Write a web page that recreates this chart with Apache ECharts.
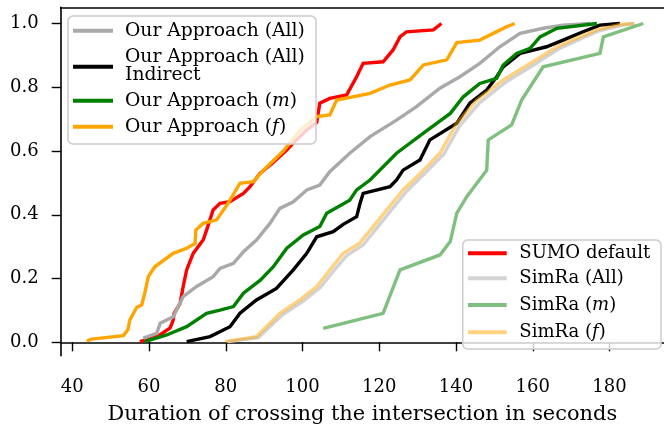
<!DOCTYPE html>
<html>
<head>
<meta charset="utf-8">
<script src="https://cdn.jsdelivr.net/npm/echarts@6/dist/echarts.min.js"></script>
<style>html,body{margin:0;padding:0;background:#fff}#c{width:664px;height:428px}</style>
</head>
<body>
<div id="c"></div>
<script>
// ---- data: [duration in s, cumulative fraction] ----
const sumoDefault = [[57.6,0.002],[60.5,0.012],[62.8,0.023],[65.5,0.045],[66.3,0.07],[66.5,0.09],[68.1,0.122],[68.9,0.175],[69.8,0.227],[71.5,0.279],[74.1,0.321],[75.0,0.352],[76.7,0.415],[78.5,0.436],[81.1,0.441],[84.6,0.467],[86.3,0.488],[88.9,0.53],[92.0,0.56],[95.9,0.603],[98.0,0.63],[101.1,0.666],[103.7,0.69],[104.5,0.75],[107.1,0.765],[111.5,0.776],[114.1,0.833],[115.8,0.875],[121.0,0.88],[123.6,0.917],[125.4,0.958],[127.1,0.974],[134.1,0.98],[136.2,1.0]];
const oursAll = [[58.5,0.013],[62.0,0.028],[62.9,0.06],[66.3,0.08],[68.9,0.143],[72.4,0.175],[76.7,0.206],[78.5,0.232],[82.0,0.248],[84.6,0.284],[88.0,0.321],[91.5,0.373],[94.1,0.42],[97.6,0.441],[101.1,0.478],[104.5,0.493],[107.1,0.535],[112.3,0.593],[117.6,0.645],[124.5,0.697],[129.7,0.739],[135.8,0.797],[141.0,0.833],[146.2,0.875],[151.4,0.927],[156.7,0.969],[162.7,0.985],[167.9,0.995],[175.0,1.0]];
const oursIndirect = [[69.8,0.002],[75.9,0.018],[81.1,0.049],[83.7,0.091],[88.0,0.133],[93.2,0.169],[97.6,0.227],[101.1,0.279],[103.7,0.331],[108.0,0.347],[110.6,0.37],[114.1,0.394],[115.0,0.436],[115.8,0.467],[122.8,0.488],[124.5,0.509],[126.2,0.54],[130.6,0.572],[133.2,0.635],[140.2,0.687],[143.6,0.75],[148.0,0.791],[150.6,0.833],[152.3,0.864],[156.7,0.906],[163.6,0.927],[167.9,0.948],[173.1,0.974],[177.5,0.995],[182.7,1.0]];
const oursM = [[58.9,0.002],[64.6,0.023],[69.8,0.049],[75.0,0.091],[78.5,0.101],[82.0,0.112],[84.6,0.154],[89.0,0.195],[92.4,0.237],[95.9,0.295],[100.2,0.337],[104.5,0.363],[106.3,0.405],[112.3,0.446],[114.1,0.478],[117.6,0.509],[124.5,0.593],[131.5,0.656],[138.5,0.718],[141.9,0.77],[146.2,0.812],[150.6,0.828],[152.3,0.87],[155.8,0.906],[159.3,0.922],[161.9,0.958],[166.3,0.985],[176.7,1.0]];
const oursF = [[43.75,0.004],[45.0,0.01],[53.3,0.021],[54.5,0.04],[55.0,0.07],[56.8,0.11],[58.1,0.117],[59.0,0.16],[59.8,0.206],[61.5,0.237],[66.3,0.279],[69.8,0.295],[72.0,0.31],[72.2,0.352],[74.1,0.373],[77.6,0.384],[80.6,0.436],[83.7,0.499],[87.2,0.504],[89.8,0.54],[95.0,0.6],[99.4,0.665],[103.7,0.708],[107.1,0.713],[108.9,0.76],[117.6,0.781],[122.8,0.807],[128.0,0.823],[131.5,0.87],[137.6,0.886],[140.2,0.94],[146.2,0.948],[149.7,0.969],[153.2,0.99],[155.3,1.0]];
const simraAll = [[80.5,0.002],[88.5,0.015],[92.0,0.055],[95.0,0.088],[100.0,0.128],[104.5,0.17],[108.0,0.222],[111.5,0.272],[115.8,0.305],[119.2,0.356],[122.8,0.41],[127.0,0.472],[129.8,0.505],[132.3,0.535],[136.8,0.59],[141.0,0.68],[146.2,0.752],[153.2,0.818],[160.2,0.87],[167.0,0.922],[173.0,0.955],[177.5,0.978],[183.5,0.995],[186.6,1.0]];
const simraM = [[105.4,0.044],[121.0,0.091],[125.4,0.227],[135.8,0.274],[138.5,0.316],[140.2,0.405],[142.8,0.457],[148.0,0.54],[148.4,0.635],[154.5,0.682],[157.1,0.76],[162.7,0.864],[177.5,0.906],[178.4,0.958],[188.8,1.0]];
const simraF = [[79.8,0.002],[88.0,0.018],[91.5,0.06],[94.1,0.091],[99.3,0.133],[103.7,0.175],[107.1,0.227],[110.6,0.279],[114.9,0.311],[118.4,0.363],[121.9,0.415],[126.2,0.478],[128.9,0.509],[131.5,0.54],[135.8,0.593],[140.2,0.687],[145.4,0.76],[152.3,0.823],[159.3,0.875],[166.3,0.927],[172.3,0.958],[176.7,0.98],[182.7,0.997],[186.2,1.0]];
const xTicks = [40,60,80,100,120,140,160,180];
const yTicks = [0,0.2,0.4,0.6,0.8,1.0];
const xLabel = 'Duration of crossing the intersection in seconds';

const FONT = 'DejaVu Serif';
const FS = 18;
// fit text sizes to the reference text widths
const mctx = document.createElement('canvas').getContext('2d');
function fitSize(text, target) {
  mctx.font = '100px "' + FONT + '"';
  return 100 * target / mctx.measureText(text).width;
}
const LS1 = Math.min(21, fitSize('Our Approach (All)', 180));
const LS2 = Math.min(21, fitSize('SUMO default', 131));
const XLS = Math.min(22, fitSize(xLabel, 510));

const chart = echarts.init(document.getElementById('c'), null, {renderer:'canvas'});

function line(name, data, color, z) {
  return {name, type:'line', data, showSymbol:false, symbol:'none', z,
    lineStyle:{color, width:3.4, join:'miter'}, itemStyle:{color}, animation:false, clip:true};
}
const series = [
  line('SUMO default', sumoDefault, '#ff0000', 2),
  line('Our Approach (All)', oursAll, '#a9a9a9', 3),
  line('Our Approach (All) Indirect', oursIndirect, '#000000', 4),
  line('Our Approach (m)', oursM, '#008000', 5),
  line('Our Approach (f)', oursF, '#ffa500', 6),
  line('SimRa (All)', simraAll, '#d3d3d3', 7),
  line('SimRa (m)', simraM, 'rgba(0,128,0,0.5)', 8),
  line('SimRa (f)', simraF, 'rgba(255,165,0,0.5)', 9),
];

const tstyle = {fontFamily:FONT, fontSize:FS, color:'#000'};
function legendBox(x,y,w,h){
  return {type:'rect', z:100, shape:{x,y,width:w,height:h,r:5},
    style:{fill:'rgba(255,255,255,0.8)', stroke:'#cccccc', lineWidth:1.5}};
}
function handle(x1,x2,y,color){
  return {type:'line', z:101, shape:{x1,y1:y,x2,y2:y}, style:{stroke:color, lineWidth:4}};
}
function label(x,y,text,fs,rich){
  return {type:'text', z:101, style:{x,y,text,fill:'#000',fontFamily:FONT,fontSize:fs,
    verticalAlign:'middle', align:'left', lineHeight:18,
    rich: rich ? {n:{fontFamily:FONT,fontSize:fs,fill:'#000'}, i:{fontFamily:FONT,fontSize:fs,fontStyle:'italic',fill:'#000'}} : undefined}};
}
const graphics = [
  legendBox(68,16,248,128),
  handle(73,113,30.7,'#a9a9a9'), label(125,31.5,'Our Approach (All)',LS1),
  handle(73,113,66.7,'#000000'), label(125,66,'Our Approach (All)\nIndirect',LS1),
  handle(73,113,100.7,'#008000'), label(125,101,'{n|Our Approach (}{i|m}{n|)}',LS1,true),
  handle(73,113,126.7,'#ffa500'), label(125,127,'{n|Our Approach (}{i|f}{n|)}',LS1,true),
  legendBox(462.7,240,198.3,109),
  handle(468,506.7,253.3,'#ff0000'), label(519.3,253.3,'SUMO default',LS2),
  handle(468,506.7,278.3,'#d3d3d3'), label(519.3,278.3,'SimRa (All)',LS2),
  handle(468,506.7,305,'#80bf80'), label(519.3,305,'{n|SimRa (}{i|m}{n|)}',LS2,true),
  handle(468,506.7,332.3,'#ffd280'), label(519.3,332.3,'{n|SimRa (}{i|f}{n|)}',LS2,true),
];

const X_MIN = 36.98, X_MAX = 194.2;
chart.setOption({
  animation:false,
  backgroundColor:'#fff',
  grid:{left:60.7, top:7.3, right:0, height:348.4, containLabel:false, outerBoundsMode:'none', show:false},
  xAxis:[{type:'value', min:X_MIN, max:X_MAX, position:'bottom',
    name:xLabel, nameLocation:'middle', nameGap:48, nameTextStyle:{fontFamily:FONT,fontSize:XLS,color:'#000'},
    axisLine:{show:true, lineStyle:{color:'#000', width:1.6}},
    axisTick:{show:true, length:9, lineStyle:{color:'#000', width:1.4}, customValues:xTicks},
    axisLabel:Object.assign({customValues:xTicks, margin:23}, tstyle),
    splitLine:{show:false}},
   {type:'value', min:X_MIN, max:X_MAX, position:'top',
    axisLine:{show:true, onZero:false, lineStyle:{color:'#000', width:1.6}},
    axisTick:{show:false}, axisLabel:{show:false}, splitLine:{show:false}}],
  yAxis:{type:'value', min:-0.042, max:1.0508,
    axisLine:{show:true, onZero:false, lineStyle:{color:'#000', width:1.6}},
    axisTick:{show:true, length:9, lineStyle:{color:'#000', width:1.4}, customValues:yTicks},
    axisLabel:Object.assign({customValues:yTicks, margin:22, formatter:v=>v.toFixed(1)}, tstyle),
    splitLine:{show:false}},
  series,
  graphic:graphics
});
</script>
</body>
</html>
